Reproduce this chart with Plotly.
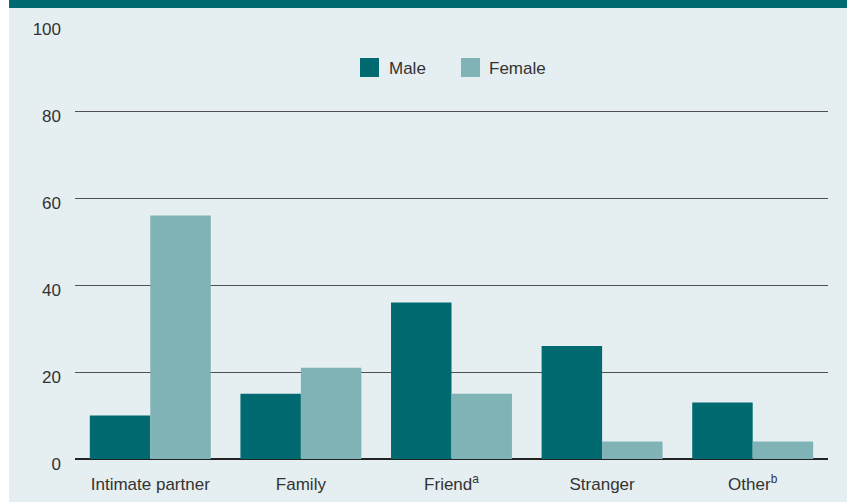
import plotly.graph_objects as go

categories = ["Intimate partner", "Family", "Friend<sup>a</sup>", "Stranger", "Other<sup>b</sup>"]
male = [10, 15, 36, 26, 13]
female = [56, 21, 15, 4, 4]
y_ticks = [0, 20, 40, 60, 80, 100]
series_names = ["Male", "Female"]

MALE_C = "#006a70"
FEMALE_C = "#80b3b6"
BG = "#e5eef0"
FONT = "Liberation Sans, Arial, sans-serif"
TXT = "#333333"

W, H = 847, 502
ML, MR, MT, MB = 75, 19, 24, 43
PW, PH = W - ML - MR, H - MT - MB

def px_x(px):
    return (px - ML) / PW

def px_y(py):
    return (H - MB - py) / PH

fig = go.Figure()
fig.add_trace(go.Bar(x=categories, y=male, name=series_names[0], marker_color=MALE_C, marker_line_width=0))
fig.add_trace(go.Bar(x=categories, y=female, name=series_names[1], marker_color=FEMALE_C, marker_line_width=0))

shapes = [
    dict(type="rect", xref="paper", yref="paper", x0=px_x(-5), x1=px_x(9), y0=px_y(510), y1=px_y(-5),
         fillcolor="white", line_width=0, layer="below"),
    dict(type="rect", xref="paper", yref="paper", x0=px_x(9), x1=px_x(855), y0=px_y(8), y1=px_y(-5),
         fillcolor=MALE_C, line_width=0, layer="above"),
]
annotations = []
# legend (manual, for square swatches)
for (sx, tx), name, col in zip([(360, 387), (461, 487)], series_names, [MALE_C, FEMALE_C]):
    shapes.append(dict(type="rect", xref="paper", yref="paper", x0=px_x(sx), x1=px_x(sx + 19),
                       y0=px_y(77), y1=px_y(58), fillcolor=col, line_width=0))
    annotations.append(dict(xref="paper", yref="paper", x=px_x(tx), y=px_y(68), xanchor="left",
                            yanchor="middle", text=name, showarrow=False,
                            font=dict(family=FONT, size=17, color=TXT)))

fig.update_layout(
    width=W, height=H,
    margin=dict(l=ML, r=MR, t=MT, b=MB, pad=0, autoexpand=False),
    paper_bgcolor=BG, plot_bgcolor=BG,
    barmode="group", bargap=0.197, bargroupgap=0,
    font=dict(family=FONT, size=17, color=TXT),
    showlegend=False,
    xaxis=dict(showgrid=False, showline=False, ticks="", ticklabelstandoff=13,
               tickfont=dict(size=17), automargin=False),
    yaxis=dict(range=[0, 100], tickvals=y_ticks, showgrid=True, gridcolor="#505050", gridwidth=1.3,
               zeroline=True, zerolinecolor="#222222", zerolinewidth=2,
               showline=False, ticks="", ticklabelstandoff=13, ticklabelshift=5,
               tickfont=dict(size=17), automargin=False),
    shapes=shapes,
    annotations=annotations,
)

fig.write_html("out.html", config={"displayModeBar": False},
               post_script="document.body.style.margin='0';document.body.style.overflow='hidden';")
